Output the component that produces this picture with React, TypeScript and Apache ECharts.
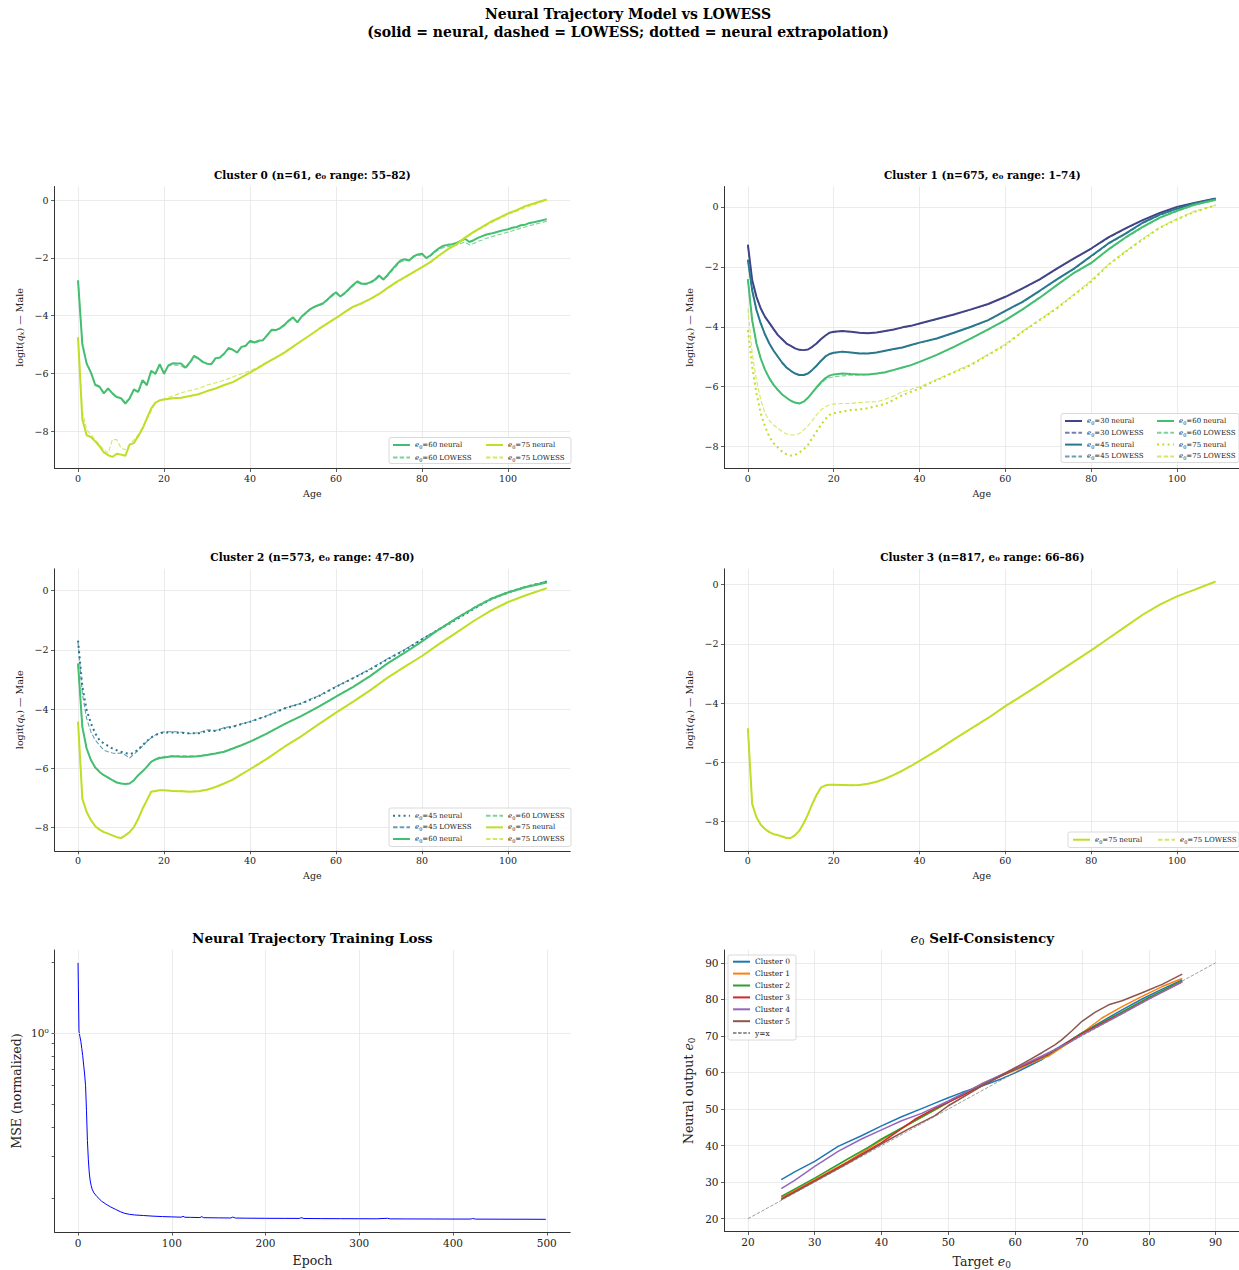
import React, { useEffect, useRef } from 'react';
import * as echarts from 'echarts';

const FONT = "'DejaVu Serif', 'Liberation Serif', serif";
const TXT = '#222222';
const AX = '#333333';
const GRIDC = '#e6e6e6';

const C30 = '#414487';
const C45 = '#2a788e';
const C60 = '#44bf70';
const C75 = '#bddf26';
const TAB = ['#1f77b4', '#ff7f0e', '#2ca02c', '#d62728', '#9467bd', '#8c564b'];

// ---------- tick values ----------
const AGE_TICKS = [0, 20, 40, 60, 80, 100];
const LOGIT_TICKS = [-8, -6, -4, -2, 0];
const EPOCH_TICKS = [0, 100, 200, 300, 400, 500];
const LOSS_TICKS = [0.2, 0.3, 0.4, 0.5, 0.6, 0.7, 0.8, 0.9, 1, 2];
const LOSS_LABELS = [1];
const E0_TICKS = [20, 30, 40, 50, 60, 70, 80, 90];

// ---------- ages ----------
const AGES_ALL = [0,1,2,3,4,5,6,7,8,9,10,11,12,13,14,15,16,17,18,19,20,21,22,23,24,25,26,27,28,29,30,31,32,33,34,35,36,37,38,39,40,41,42,43,44,45,46,47,48,49,50,51,52,53,54,55,56,57,58,59,60,61,62,63,64,65,66,67,68,69,70,71,72,73,74,75,76,77,78,79,80,81,82,83,84,85,86,87,88,89,90,91,92,93,94,95,96,97,98,99,100,101,102,103,104,105,106,107,108,109];
const AGES_2 = [0,1,2,3,4,5,6,7,8,9,10,11,12,13,14,15,16,17,18,19,20,22,24,26,28,30,32,34,36,38,40,42,44,46,48,50,52,54,56,58,60,62,64,66,68,70,72,74,76,78,80,82,84,86,88,90,92,94,96,98,100,102,104,106,108,109];
const AGES_S = [0,1,2,3,4,5,6,7,8,9,10,11,12,13,14,15,16,17,18,19,20,22,24,26,28,30,32,34,36,38,40,44,48,52,56,60,64,68,72,76,80,84,88,92,96,100,104,109];

// ---------- Cluster 0 ----------
const C0_E60_NEURAL = [-2.78,-4.99,-5.66,-5.97,-6.40,-6.46,-6.69,-6.52,-6.69,-6.82,
 -6.86,-7.04,-6.86,-6.55,-6.64,-6.23,-6.40,-5.91,-6.01,-5.68,
 -6.01,-5.72,-5.65,-5.66,-5.66,-5.80,-5.62,-5.39,-5.48,-5.60,
 -5.66,-5.68,-5.47,-5.45,-5.31,-5.12,-5.18,-5.28,-5.08,-5.04,
 -4.87,-4.93,-4.87,-4.85,-4.67,-4.49,-4.50,-4.43,-4.32,-4.17,
 -4.06,-4.23,-4.03,-3.90,-3.77,-3.69,-3.63,-3.57,-3.44,-3.30,
 -3.19,-3.34,-3.22,-3.08,-2.93,-2.81,-2.90,-2.90,-2.84,-2.76,
 -2.61,-2.75,-2.59,-2.41,-2.24,-2.09,-2.05,-2.09,-1.95,-1.88,
 -1.86,-2.01,-1.91,-1.77,-1.66,-1.58,-1.55,-1.53,-1.48,-1.41,
 -1.34,-1.45,-1.39,-1.31,-1.25,-1.19,-1.16,-1.12,-1.08,-1.04,
 -1.01,-0.96,-0.93,-0.87,-0.85,-0.79,-0.77,-0.73,-0.70,-0.66];
const C0_E60_LOWESS = [-2.78,-4.95,-5.62,-5.95,-6.36,-6.44,-6.66,-6.55,-6.68,-6.80,
 -6.84,-7.00,-6.88,-6.58,-6.66,-6.28,-6.42,-5.96,-6.03,-5.72,
 -5.98,-5.75,-5.70,-5.72,-5.74,-5.83,-5.66,-5.44,-5.50,-5.62,
 -5.68,-5.68,-5.50,-5.46,-5.33,-5.16,-5.20,-5.27,-5.10,-5.06,
 -4.92,-4.95,-4.90,-4.86,-4.70,-4.52,-4.52,-4.45,-4.35,-4.20,
 -4.10,-4.22,-4.06,-3.93,-3.80,-3.72,-3.66,-3.60,-3.47,-3.34,
 -3.24,-3.34,-3.25,-3.11,-2.97,-2.86,-2.92,-2.92,-2.87,-2.80,
 -2.66,-2.76,-2.63,-2.46,-2.29,-2.14,-2.09,-2.10,-1.98,-1.92,
 -1.90,-2.00,-1.93,-1.81,-1.71,-1.64,-1.61,-1.59,-1.55,-1.50,
 -1.45,-1.55,-1.50,-1.43,-1.38,-1.32,-1.28,-1.23,-1.19,-1.15,
 -1.11,-1.06,-1.02,-0.97,-0.93,-0.88,-0.85,-0.81,-0.77,-0.73];
const C0_E75_NEURAL = [-4.75,-7.59,-8.14,-8.20,-8.35,-8.52,-8.73,-8.83,-8.89,-8.78,-8.81,-8.85,-8.46,-8.41,-8.17,-7.91,-7.56,-7.22,-7.01,-6.93,-6.90,
 -6.86,-6.84,-6.78,-6.72,-6.61,-6.52,-6.40,-6.30,-6.14,-5.97,-5.80,-5.62,-5.45,-5.28,-5.07,-4.87,-4.67,-4.46,-4.27,-4.08,-3.88,-3.69,-3.57,-3.42,-3.25,-3.04,-2.84,-2.67,-2.49,-2.32,-2.14,-1.91,-1.70,-1.53,-1.30,-1.10,-0.93,-0.75,-0.61,-0.46,-0.35,-0.21,-0.12,-0.02,
 0.02];
const C0_E75_LOWESS = [-4.75,-7.30,-7.94,-8.12,-8.30,-8.46,-8.64,-8.76,-8.29,-8.29,-8.58,-8.64,-8.46,-8.30,-8.12,-7.85,-7.59,-7.30,-7.01,-6.93,-6.88,
 -6.78,-6.67,-6.59,-6.52,-6.40,-6.32,-6.23,-6.12,-6.01,-5.91,-5.77,-5.60,-5.44,-5.27,-5.07,-4.87,-4.67,-4.47,-4.28,-4.09,-3.89,-3.71,-3.58,-3.43,-3.26,-3.06,-2.86,-2.69,-2.51,-2.34,-2.15,-1.93,-1.72,-1.55,-1.33,-1.13,-0.96,-0.79,-0.65,-0.50,-0.39,-0.26,-0.16,-0.06,
 -0.02];

// ---------- Cluster 1 ----------
const C1_E30_NEURAL = [-1.26,-2.44,-3.00,-3.39,-3.67,-3.87,-4.08,-4.28,-4.42,-4.56,-4.64,-4.72,-4.77,-4.78,-4.76,-4.67,-4.56,-4.42,-4.30,-4.20,-4.17,
 -4.14,-4.17,-4.20,-4.22,-4.19,-4.14,-4.09,-4.02,-3.97,-3.89,
 -3.74,-3.59,-3.42,-3.24,-3.00,-2.72,-2.42,-2.06,-1.72,-1.39,-1.02,-0.72,-0.44,-0.20,0.00,0.13,
 0.28];
const C1_E30_LOWESS = [-1.30,-2.48,-3.03,-3.40,-3.68,-3.88,-4.09,-4.28,-4.43,-4.56,-4.65,-4.72,-4.77,-4.78,-4.75,-4.67,-4.55,-4.42,-4.30,-4.21,-4.18,
 -4.15,-4.17,-4.20,-4.21,-4.19,-4.15,-4.09,-4.03,-3.97,-3.90,
 -3.75,-3.60,-3.43,-3.25,-3.01,-2.73,-2.43,-2.07,-1.73,-1.40,-1.04,-0.73,-0.45,-0.21,-0.01,0.12,
 0.27];
const C1_E45_NEURAL = [-1.76,-2.78,-3.44,-3.89,-4.26,-4.56,-4.80,-5.00,-5.20,-5.36,-5.47,-5.56,-5.61,-5.61,-5.56,-5.44,-5.30,-5.14,-5.00,-4.91,-4.87,
 -4.83,-4.86,-4.89,-4.89,-4.86,-4.80,-4.74,-4.69,-4.61,-4.53,
 -4.39,-4.20,-4.00,-3.78,-3.47,-3.17,-2.80,-2.42,-2.06,-1.64,-1.22,-0.89,-0.53,-0.26,-0.06,0.11,
 0.26];
const C1_E45_LOWESS = [-1.80,-2.82,-3.46,-3.90,-4.27,-4.57,-4.81,-5.01,-5.21,-5.37,-5.48,-5.57,-5.62,-5.62,-5.57,-5.45,-5.31,-5.15,-5.01,-4.92,-4.88,
 -4.84,-4.86,-4.88,-4.89,-4.86,-4.81,-4.75,-4.70,-4.62,-4.54,
 -4.40,-4.21,-4.01,-3.79,-3.48,-3.18,-2.81,-2.43,-2.07,-1.66,-1.24,-0.91,-0.55,-0.28,-0.07,0.10,
 0.25];
const C1_E60_NEURAL = [-2.41,-3.78,-4.56,-5.06,-5.44,-5.72,-5.94,-6.11,-6.26,-6.37,-6.47,-6.53,-6.56,-6.50,-6.37,-6.20,-6.02,-5.86,-5.72,-5.63,-5.59,
 -5.56,-5.58,-5.59,-5.59,-5.56,-5.52,-5.44,-5.36,-5.28,-5.17,
 -4.94,-4.67,-4.39,-4.09,-3.78,-3.42,-3.03,-2.61,-2.20,-1.87,-1.42,-1.02,-0.67,-0.36,-0.13,0.07,
 0.24];
const C1_E60_LOWESS = [-2.45,-3.82,-4.58,-5.08,-5.45,-5.73,-5.95,-6.12,-6.27,-6.38,-6.48,-6.54,-6.56,-6.50,-6.38,-6.22,-6.05,-5.90,-5.77,-5.70,-5.67,
 -5.64,-5.62,-5.61,-5.60,-5.57,-5.53,-5.45,-5.37,-5.29,-5.18,
 -4.95,-4.68,-4.40,-4.10,-3.79,-3.43,-3.04,-2.62,-2.22,-1.89,-1.44,-1.04,-0.69,-0.38,-0.15,0.05,
 0.22];
const C1_E75_NEURAL = [-4.11,-5.33,-6.22,-6.89,-7.33,-7.67,-7.89,-8.03,-8.17,-8.26,-8.30,-8.28,-8.20,-8.09,-7.94,-7.72,-7.50,-7.28,-7.09,-6.94,-6.89,
 -6.83,-6.78,-6.76,-6.72,-6.64,-6.58,-6.44,-6.28,-6.17,-6.06,
 -5.78,-5.53,-5.28,-4.94,-4.61,-4.17,-3.78,-3.39,-2.94,-2.50,-1.94,-1.50,-1.09,-0.70,-0.42,-0.17,
 0.06];
const C1_E75_LOWESS = [-3.39,-4.89,-5.78,-6.44,-6.89,-7.13,-7.28,-7.39,-7.50,-7.58,-7.61,-7.61,-7.56,-7.44,-7.31,-7.13,-6.94,-6.78,-6.67,-6.61,-6.58,
 -6.56,-6.56,-6.53,-6.51,-6.50,-6.42,-6.31,-6.17,-6.09,-6.00,
 -5.76,-5.50,-5.25,-4.92,-4.58,-4.15,-3.76,-3.36,-2.92,-2.45,-1.92,-1.48,-1.06,-0.68,-0.40,-0.15,
 0.05];

// ---------- Cluster 2 ----------
const C2_E45_NEURAL = [-1.69,-3.25,-4.03,-4.48,-4.82,-5.05,-5.16,-5.24,-5.33,-5.39,-5.44,-5.48,-5.52,-5.48,-5.36,-5.22,-5.08,-4.96,-4.88,-4.82,-4.79,
 -4.79,-4.80,-4.82,-4.82,-4.74,-4.74,-4.65,-4.60,-4.51,-4.43,
 -4.23,-3.98,-3.81,-3.56,-3.25,-2.96,-2.66,-2.32,-2.01,-1.65,-1.31,-0.98,-0.62,-0.30,-0.07,0.11,
 0.30];
const C2_E45_LOWESS = [-1.76,-3.47,-4.32,-4.77,-5.05,-5.22,-5.39,-5.44,-5.48,-5.50,-5.48,-5.55,-5.65,-5.52,-5.39,-5.24,-5.10,-4.97,-4.87,-4.80,-4.77,
 -4.76,-4.78,-4.83,-4.80,-4.70,-4.72,-4.63,-4.58,-4.50,-4.42,
 -4.22,-3.97,-3.80,-3.55,-3.24,-2.95,-2.64,-2.30,-1.99,-1.63,-1.29,-0.95,-0.60,-0.28,-0.06,0.12,
 0.31];
const C2_E60_NEURAL = [-2.46,-4.60,-5.33,-5.72,-5.97,-6.12,-6.23,-6.31,-6.40,-6.48,-6.51,-6.53,-6.51,-6.40,-6.23,-6.10,-5.95,-5.78,-5.70,-5.65,-5.63,
 -5.59,-5.61,-5.61,-5.59,-5.55,-5.50,-5.44,-5.33,-5.22,-5.10,
 -4.82,-4.51,-4.23,-3.92,-3.58,-3.25,-2.88,-2.46,-2.10,-1.72,-1.31,-0.94,-0.60,-0.29,-0.07,0.11,
 0.27];
const C2_E60_LOWESS = [-2.50,-4.62,-5.34,-5.72,-5.96,-6.11,-6.22,-6.30,-6.39,-6.47,-6.50,-6.52,-6.50,-6.40,-6.24,-6.10,-5.94,-5.78,-5.68,-5.62,-5.60,
 -5.57,-5.58,-5.58,-5.57,-5.53,-5.48,-5.42,-5.32,-5.21,-5.09,
 -4.81,-4.50,-4.22,-3.91,-3.57,-3.24,-2.87,-2.45,-2.09,-1.70,-1.29,-0.92,-0.57,-0.26,-0.04,0.14,
 0.30];
const C2_E75_NEURAL = [-4.43,-7.02,-7.47,-7.75,-7.95,-8.07,-8.15,-8.20,-8.26,-8.32,-8.35,-8.26,-8.15,-7.98,-7.70,-7.36,-7.08,-6.79,-6.76,-6.74,-6.74,
 -6.76,-6.77,-6.79,-6.77,-6.72,-6.63,-6.51,-6.38,-6.20,-6.03,
 -5.67,-5.27,-4.91,-4.51,-4.12,-3.75,-3.36,-2.94,-2.57,-2.21,-1.80,-1.42,-1.03,-0.68,-0.39,-0.17,
 0.08];
const C2_E75_LOWESS = [-4.43,-7.00,-7.46,-7.74,-7.94,-8.06,-8.14,-8.20,-8.26,-8.31,-8.34,-8.26,-8.14,-7.97,-7.70,-7.37,-7.08,-6.80,-6.76,-6.74,-6.74,
 -6.75,-6.76,-6.78,-6.76,-6.71,-6.62,-6.50,-6.37,-6.19,-6.02,
 -5.66,-5.27,-4.90,-4.51,-4.12,-3.74,-3.36,-2.94,-2.57,-2.20,-1.80,-1.42,-1.03,-0.69,-0.40,-0.18,
 0.07];

// ---------- Cluster 3 ----------
const C3_E75_NEURAL = [-4.85,-7.40,-7.85,-8.10,-8.25,-8.35,-8.42,-8.45,-8.50,-8.55,-8.55,-8.45,-8.30,-8.05,-7.75,-7.40,-7.10,-6.85,-6.78,-6.75,-6.75,
 -6.76,-6.77,-6.76,-6.72,-6.65,-6.55,-6.42,-6.28,-6.12,-5.95,
 -5.60,-5.22,-4.86,-4.50,-4.10,-3.74,-3.37,-2.98,-2.60,-2.22,-1.82,-1.42,-1.02,-0.68,-0.40,-0.18,
 0.10];
const C3_E75_LOWESS = [-4.85,-7.38,-7.84,-8.09,-8.24,-8.34,-8.42,-8.45,-8.50,-8.54,-8.54,-8.45,-8.30,-8.05,-7.76,-7.41,-7.11,-6.86,-6.78,-6.75,-6.75,
 -6.76,-6.76,-6.75,-6.72,-6.65,-6.55,-6.42,-6.28,-6.12,-5.95,
 -5.60,-5.22,-4.86,-4.50,-4.10,-3.74,-3.37,-2.98,-2.60,-2.22,-1.82,-1.42,-1.02,-0.68,-0.40,-0.18,
 0.09];

// ---------- Training loss ----------
const LOSS_EPOCHS = [0,1,2,3,4,5,6,7,8,9,10,11,12,13,14,15,17,20,25,30,35,40,45,50,55,60,70,80,90,100,110,112,114,120,130,132,134,150,163,165,168,180,200,220,236,238,241,260,280,300,318,330,333,350,380,400,419,421,424,450,480,499];
const LOSS_VALUES = [1.98,1.02,0.965,0.92,0.86,0.80,0.73,0.67,0.60,0.47,0.35,0.29,0.255,0.236,0.226,0.218,
 0.210,0.203,0.194,0.188,0.183,0.179,0.175,0.172,0.1705,0.1695,
 0.1685,0.1675,0.1668,0.1663,0.1658,0.1672,0.1657,0.1655,0.1652,0.1667,0.1650,
 0.1647,0.1645,0.1660,0.1644,0.1642,0.1640,0.1639,0.1638,0.1650,0.1637,
 0.1635,0.1634,0.1633,0.1632,0.1640,0.1631,0.1630,0.1629,0.1628,0.1628,0.1637,0.1627,0.1626,0.1625,0.1624];

// ---------- Self-consistency ----------
const SC0_X = [25,27,30,33.5,37,40,43,46,48,50,52,55,58,60,62,64,66,68,70,73,76,79,82,85];
const SC0_Y = [30.7,32.8,35.7,39.8,42.7,45.4,47.9,50.1,51.6,53.1,54.5,56.3,58.3,59.9,61.7,63.5,66.3,68.5,70.8,74.0,77.1,80.1,82.8,85.3];
const SC1_X = [25,30,35,40,45,50,55,60,62,65,68,70,73,76,79,82,85];
const SC1_Y = [25.8,30.7,35.7,41.5,46.8,51.8,56.9,60.6,62.2,64.5,68.1,70.8,74.9,78.0,80.8,83.5,85.7];
const SC2_X = [25,30,35,38,40,45,50,55,60,65,70,75,80,85];
const SC2_Y = [26.1,31.1,36.4,39.5,41.8,46.8,51.8,56.8,60.8,64.9,70.8,75.6,80.5,85.1];
const SC3_X = [25,30,35,40,45,48,50,52,55,60,65,70,75,80,85];
const SC3_Y = [25.4,30.4,35.5,40.8,47.2,50.2,51.9,53.6,56.4,60.9,65.0,70.6,75.3,80.2,84.8];
const SC4_X = [25,27,30,33.5,37,40,43,46,50,55,60,64,68,70,75,80,85];
const SC4_Y = [28.2,30.5,34.3,38.4,41.8,44.3,46.8,48.8,52.2,56.9,61.1,64.5,68.1,70.3,75.1,80.1,84.8];
const SC5_X = [25,30,35,40,44,48,50,55,60,62,64,66,67,68.5,70,72,74,76,79,82,85];
const SC5_Y = [25.2,30.2,35.2,40.5,44.5,48.2,50.9,56.3,61.3,63.3,65.4,67.6,69.0,71.4,74.0,76.5,78.5,79.6,81.8,84.1,86.9];
const IDENT_X = [20, 90];
const IDENT_Y = [20, 90];

// ---------- helpers ----------
const pairs = (xs: number[], ys: number[]) => xs.map((x, i) => [x, ys[i]]);
const minus = (v: number) => (v < 0 ? '\u2212' + Math.abs(v) : String(v));

function lineSeries(name: string, gi: number, xs: number[], ys: number[], color: string, kind: string) {
  let lineStyle: any;
  if (kind === 'neural') lineStyle = { color, width: 2 };
  else if (kind === 'dotted') lineStyle = { color, width: 2, type: [2, 3.3] };
  else if (kind === 'lowess') lineStyle = { color, width: 1.1, type: [4.5, 2.2], opacity: 0.7 };
  else if (kind === 'sc') lineStyle = { color, width: 1.5 };
  else if (kind === 'ident') lineStyle = { color: '#7f7f7f', width: 0.9, type: [3.5, 1.6], opacity: 0.85 };
  else lineStyle = { color, width: 1 };
  return {
    type: 'line', name, xAxisIndex: gi, yAxisIndex: gi, data: pairs(xs, ys),
    symbol: 'none', showSymbol: false, silent: true, lineStyle,
    itemStyle: { color: lineStyle.color }, z: 2,
  };
}

const richSmall = (size: number, lh: number) => ({
  n: { fontFamily: FONT, fontSize: size, color: TXT, lineHeight: lh },
  t: { fontFamily: FONT, fontSize: size, color: TXT, lineHeight: lh },
  i: { fontFamily: FONT, fontStyle: 'italic', fontSize: size, color: TXT, lineHeight: lh },
  s: { fontFamily: FONT, fontSize: Math.round(size * 0.72), color: TXT, lineHeight: Math.round(size * 0.65), verticalAlign: 'bottom' },
  si: { fontFamily: FONT, fontStyle: 'italic', fontSize: Math.round(size * 0.72), color: TXT, lineHeight: Math.round(size * 0.65), verticalAlign: 'bottom' },
});

const fmtLegend = (name: string) => {
  const base = name.split('#')[0];
  if (base.indexOf('e0=') === 0) return '{i|e}{s|0}{t|' + base.slice(2) + '}';
  return '{t|' + base + '}';
};

function legendCol(names: string[], left: number, top: number, gap: number, size = 7) {
  return {
    show: true, orient: 'vertical', left, top, padding: 0, itemGap: gap,
    itemWidth: 17, itemHeight: 6, selectedMode: false, data: names,
    formatter: fmtLegend,
    itemStyle: { opacity: 0 },
    textStyle: { fontFamily: FONT, fontSize: size, color: TXT, lineHeight: 9, rich: richSmall(size, 9) },
    z: 30,
  };
}

function valueX(gi: number, min: number, max: number, ticks: number[], name: string, fs: number, nfs: number, gap: number) {
  return {
    type: 'value', gridIndex: gi, min, max, name, nameLocation: 'middle', nameGap: gap,
    nameTextStyle: { fontFamily: FONT, fontSize: nfs, color: TXT, rich: richSmall(nfs, nfs + 3) },
    axisLine: { show: true, onZero: false, lineStyle: { color: AX, width: 1 } },
    axisTick: { show: true, length: 3.5, customValues: ticks, lineStyle: { color: AX, width: 0.8 } },
    axisLabel: { show: true, customValues: ticks, fontFamily: FONT, fontSize: fs, color: TXT, margin: 5, formatter: minus },
    splitLine: { show: true, lineStyle: { color: GRIDC, width: 0.8 } },
  };
}

function valueY(gi: number, min: number, max: number, ticks: number[], name: string, fs: number, nfs: number, gap: number) {
  return {
    type: 'value', gridIndex: gi, min, max, name, nameLocation: 'middle', nameGap: gap, nameRotate: 90,
    nameTextStyle: { fontFamily: FONT, fontSize: nfs, color: TXT, rich: richSmall(nfs, nfs + 3) },
    axisLine: { show: true, onZero: false, lineStyle: { color: AX, width: 1 } },
    axisTick: { show: true, length: 3.5, customValues: ticks, lineStyle: { color: AX, width: 0.8 } },
    axisLabel: { show: true, customValues: ticks, fontFamily: FONT, fontSize: fs, color: TXT, margin: 6, formatter: minus },
    splitLine: { show: true, lineStyle: { color: GRIDC, width: 0.8 } },
  };
}

const LOGIT_NAME = '{n|logit(}{i|q}{si|x}{n|) \u2014 Male}';

function titleText(x: number, y: number, text: string, size: number, rich?: any) {
  return {
    type: 'text', x, y, z: 40, silent: true,
    style: { text, fill: '#000', fontFamily: FONT, fontWeight: 'bold', fontSize: size, align: 'center', verticalAlign: 'middle', rich },
  };
}

function frame(x: number, y: number, w: number, h: number) {
  return {
    type: 'rect', z: 25, silent: true,
    shape: { x, y, width: w, height: h, r: 2 },
    style: { fill: 'rgba(255,255,255,0.85)', stroke: '#d0d0d0', lineWidth: 0.8 },
  };
}

function buildOption() {
  const LX = 54.6, RX = 724.5, W = 515.6, H = 282;
  const grid = [
    { left: LX, top: 186.5, width: W, height: H },
    { left: RX, top: 186.5, width: W, height: H },
    { left: LX, top: 568.8, width: W, height: H },
    { left: RX, top: 568.8, width: W, height: H },
    { left: LX, top: 950, width: W, height: H },
    { left: RX, top: 950, width: W, height: H },
  ];

  const xAxis: any[] = [
    valueX(0, -5.45, 114.45, AGE_TICKS, 'Age', 9.5, 9.5, 20),
    valueX(1, -5.45, 114.45, AGE_TICKS, 'Age', 9.5, 9.5, 20),
    valueX(2, -5.45, 114.45, AGE_TICKS, 'Age', 9.5, 9.5, 20),
    valueX(3, -5.45, 114.45, AGE_TICKS, 'Age', 9.5, 9.5, 20),
    valueX(4, -25, 525, EPOCH_TICKS, 'Epoch', 10.5, 12.5, 22),
    valueX(5, 16.5, 93.5, E0_TICKS, '{n|Target }{i|e}{s|0}', 10.5, 12.5, 22),
  ];

  const lossY = {
    type: 'log', logBase: 10, gridIndex: 4, min: 0.1435, max: 2.245,
    name: 'MSE (normalized)', nameLocation: 'middle', nameGap: 32, nameRotate: 90,
    nameTextStyle: { fontFamily: FONT, fontSize: 12.5, color: TXT },
    axisLine: { show: true, onZero: false, lineStyle: { color: AX, width: 1 } },
    axisTick: { show: true, length: 3, customValues: LOSS_TICKS, lineStyle: { color: AX, width: 0.8 } },
    axisLabel: { show: true, customValues: LOSS_LABELS, fontFamily: FONT, fontSize: 10.5, color: TXT, margin: 6, formatter: (v: number) => (Math.abs(v - 1) < 1e-9 ? '10\u2070' : '') },
    splitLine: { show: false },
    minorTick: { show: false },
  };

  const yAxis: any[] = [
    valueY(0, -9.29, 0.47, LOGIT_TICKS, LOGIT_NAME, 9.5, 9.5, 29),
    valueY(1, -8.73, 0.68, LOGIT_TICKS, LOGIT_NAME, 9.5, 9.5, 29),
    valueY(2, -8.78, 0.73, LOGIT_TICKS, LOGIT_NAME, 9.5, 9.5, 29),
    valueY(3, -8.98, 0.53, LOGIT_TICKS, LOGIT_NAME, 9.5, 9.5, 29),
    lossY,
    valueY(5, 16.5, 93.5, E0_TICKS, '{n|Neural output }{i|e}{s|0}', 10.5, 12.5, 28),
  ];

  const series: any[] = [
    lineSeries('e0=60 neural#0', 0, AGES_ALL, C0_E60_NEURAL, C60, 'neural'),
    lineSeries('e0=60 LOWESS#0', 0, AGES_ALL, C0_E60_LOWESS, C60, 'lowess'),
    lineSeries('e0=75 neural#0', 0, AGES_2, C0_E75_NEURAL, C75, 'neural'),
    lineSeries('e0=75 LOWESS#0', 0, AGES_2, C0_E75_LOWESS, C75, 'lowess'),
    lineSeries('e0=30 neural#1', 1, AGES_S, C1_E30_NEURAL, C30, 'neural'),
    lineSeries('e0=30 LOWESS#1', 1, AGES_S, C1_E30_LOWESS, C30, 'lowess'),
    lineSeries('e0=45 neural#1', 1, AGES_S, C1_E45_NEURAL, C45, 'neural'),
    lineSeries('e0=45 LOWESS#1', 1, AGES_S, C1_E45_LOWESS, C45, 'lowess'),
    lineSeries('e0=60 neural#1', 1, AGES_S, C1_E60_NEURAL, C60, 'neural'),
    lineSeries('e0=60 LOWESS#1', 1, AGES_S, C1_E60_LOWESS, C60, 'lowess'),
    lineSeries('e0=75 neural#1', 1, AGES_S, C1_E75_NEURAL, C75, 'dotted'),
    lineSeries('e0=75 LOWESS#1', 1, AGES_S, C1_E75_LOWESS, C75, 'lowess'),
    lineSeries('e0=45 neural#2', 2, AGES_S, C2_E45_NEURAL, C45, 'dotted'),
    lineSeries('e0=45 LOWESS#2', 2, AGES_S, C2_E45_LOWESS, C45, 'lowess'),
    lineSeries('e0=60 neural#2', 2, AGES_S, C2_E60_NEURAL, C60, 'neural'),
    lineSeries('e0=60 LOWESS#2', 2, AGES_S, C2_E60_LOWESS, C60, 'lowess'),
    lineSeries('e0=75 neural#2', 2, AGES_S, C2_E75_NEURAL, C75, 'neural'),
    lineSeries('e0=75 LOWESS#2', 2, AGES_S, C2_E75_LOWESS, C75, 'lowess'),
    lineSeries('e0=75 neural#3', 3, AGES_S, C3_E75_NEURAL, C75, 'neural'),
    lineSeries('e0=75 LOWESS#3', 3, AGES_S, C3_E75_LOWESS, C75, 'lowess'),
    {
      ...lineSeries('loss', 4, LOSS_EPOCHS, LOSS_VALUES, '#0000ff', 'loss'),
      markLine: {
        silent: true, symbol: 'none', label: { show: false },
        lineStyle: { color: GRIDC, width: 0.8, type: 'solid' },
        data: [{ yAxis: 1 }],
      },
    },
    lineSeries('Cluster 0', 5, SC0_X, SC0_Y, TAB[0], 'sc'),
    lineSeries('Cluster 1', 5, SC1_X, SC1_Y, TAB[1], 'sc'),
    lineSeries('Cluster 2', 5, SC2_X, SC2_Y, TAB[2], 'sc'),
    lineSeries('Cluster 3', 5, SC3_X, SC3_Y, TAB[3], 'sc'),
    lineSeries('Cluster 4', 5, SC4_X, SC4_Y, TAB[4], 'sc'),
    lineSeries('Cluster 5', 5, SC5_X, SC5_Y, TAB[5], 'sc'),
    lineSeries('y=x', 5, IDENT_X, IDENT_Y, '#7f7f7f', 'ident'),
  ];

  const legend: any[] = [
    legendCol(['e0=60 neural#0', 'e0=60 LOWESS#0'], 392, 440.5, 3.5),
    legendCol(['e0=75 neural#0', 'e0=75 LOWESS#0'], 485, 440.5, 3.5),
    legendCol(['e0=30 neural#1', 'e0=30 LOWESS#1', 'e0=45 neural#1', 'e0=45 LOWESS#1'], 1064, 416.5, 2.8),
    legendCol(['e0=60 neural#1', 'e0=60 LOWESS#1', 'e0=75 neural#1', 'e0=75 LOWESS#1'], 1156, 416.5, 2.8),
    legendCol(['e0=45 neural#2', 'e0=45 LOWESS#2', 'e0=60 neural#2'], 392, 811.2, 2.65),
    legendCol(['e0=60 LOWESS#2', 'e0=75 neural#2', 'e0=75 LOWESS#2'], 485, 811.2, 2.65),
    legendCol(['e0=75 neural#3'], 1072, 835.2, 2.65),
    legendCol(['e0=75 LOWESS#3'], 1157, 835.2, 2.65),
    legendCol(['Cluster 0', 'Cluster 1', 'Cluster 2', 'Cluster 3', 'Cluster 4', 'Cluster 5', 'y=x'], 732, 957.2, 2.9, 7.5),
  ];

  const LC = LX + W / 2, RC = RX + W / 2;
  const scTitleRich = {
    i: { fontFamily: FONT, fontStyle: 'italic', fontWeight: 'normal', fontSize: 13.5, fill: '#000', lineHeight: 17 },
    s: { fontFamily: FONT, fontWeight: 'normal', fontSize: 9.5, fill: '#000', lineHeight: 9, verticalAlign: 'bottom' },
    b: { fontFamily: FONT, fontWeight: 'bold', fontSize: 13.5, fill: '#000', lineHeight: 17 },
  };

  const graphic = {
    elements: [
      titleText(628, 14, 'Neural Trajectory Model vs LOWESS', 14),
      titleText(628, 32, '(solid = neural, dashed = LOWESS; dotted = neural extrapolation)', 14),
      titleText(LC, 175, 'Cluster 0 (n=61, e\u2080 range: 55\u201382)', 10.5),
      titleText(RC, 175, 'Cluster 1 (n=675, e\u2080 range: 1\u201374)', 10.5),
      titleText(LC, 557, 'Cluster 2 (n=573, e\u2080 range: 47\u201380)', 10.5),
      titleText(RC, 557, 'Cluster 3 (n=817, e\u2080 range: 66\u201386)', 10.5),
      titleText(LC, 938, 'Neural Trajectory Training Loss', 13.5),
      titleText(RC, 938, '{i|e}{s|0}{b| Self-Consistency}', 13.5, scTitleRich),
      frame(389, 437.5, 182, 26),
      frame(1061, 413.5, 178, 49),
      frame(389, 808, 182, 38.5),
      frame(1068, 832, 171, 15.5),
      frame(728, 955, 68, 85),
    ],
  };

  return {
    animation: false,
    backgroundColor: '#ffffff',
    grid, xAxis, yAxis, series, legend, graphic,
  };
}

export default function App() {
  const ref = useRef<HTMLDivElement>(null);
  useEffect(() => {
    document.body.style.margin = '0';
    const chart = echarts.init(ref.current as HTMLDivElement, undefined, { renderer: 'svg' });
    chart.setOption(buildOption() as any);
    return () => chart.dispose();
  }, []);
  return (
    <div
      ref={ref}
      style={{ position: 'absolute', left: 0, top: 0, width: 1239, height: 1270, background: '#ffffff' }}
    />
  );
}
